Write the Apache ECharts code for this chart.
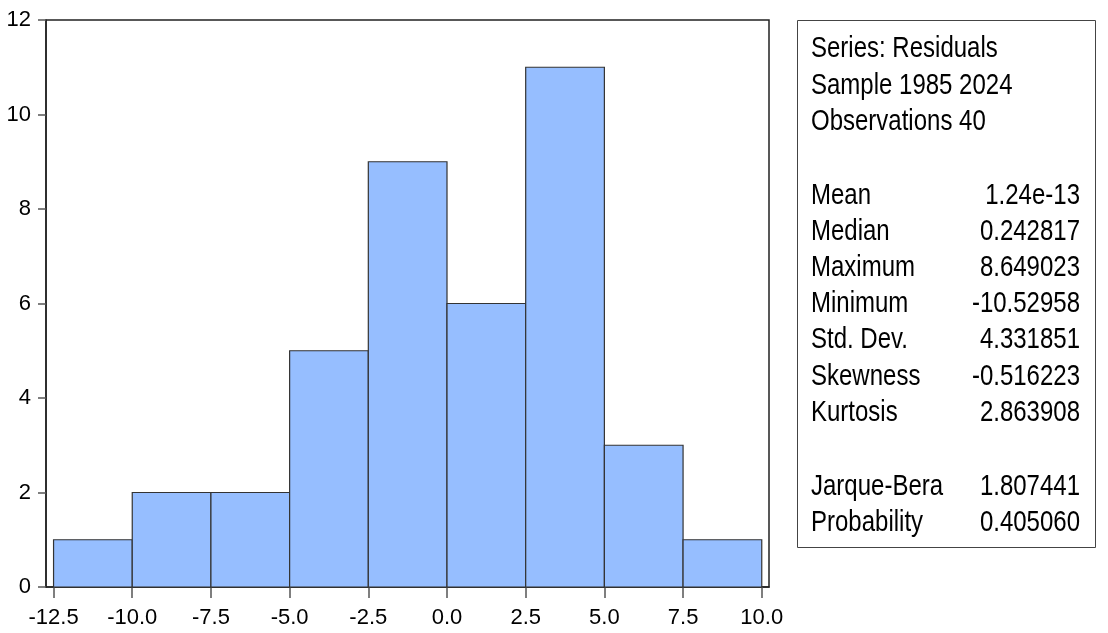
<!DOCTYPE html>
<html>
<head>
<meta charset="utf-8">
<script src="https://cdn.jsdelivr.net/npm/echarts@6/dist/echarts.min.js"></script>
<style>
html,body{margin:0;padding:0;background:#fff;}
#chart{width:1108px;height:633px;}
</style>
</head>
<body>
<div id="chart"></div>
<script>
// Histogram bins (lower edge, upper edge) and counts
const binStarts = [-12.5, -10.0, -7.5, -5.0, -2.5, 0.0, 2.5, 5.0, 7.5];
const binEnds   = [-10.0, -7.5, -5.0, -2.5, 0.0, 2.5, 5.0, 7.5, 10.0];
const counts    = [1, 2, 2, 5, 9, 6, 11, 3, 1];
const xTicks    = [-12.5, -10.0, -7.5, -5.0, -2.5, 0.0, 2.5, 5.0, 7.5, 10.0];
const yTicks    = [0, 2, 4, 6, 8, 10, 12];

// Statistics panel
const headerLines = ['Series: Residuals', 'Sample 1985 2024', 'Observations 40'];
const statLabels  = ['Mean', 'Median', 'Maximum', 'Minimum', 'Std. Dev.', 'Skewness', 'Kurtosis'];
const statValues  = ['1.24e-13', '0.242817', '8.649023', '-10.52958', '4.331851', '-0.516223', '2.863908'];
const testLabels  = ['Jarque-Bera', 'Probability'];
const testValues  = ['1.807441', '0.405060'];

const FONT = '"Liberation Sans", Arial, sans-serif';
const chart = echarts.init(document.getElementById('chart'), null, {renderer: 'canvas'});

const data = binStarts.map((s, i) => [s, binEnds[i], counts[i]]);

const panelText = [];
const SX = 0.8;
function addText(str, x, y, align) {
  panelText.push({
    type: 'text', x: x, y: y, scaleX: SX, scaleY: 1,
    style: {text: str, x: 0, y: 0, fill: '#000', font: '30px ' + FONT,
            textAlign: align, textVerticalAlign: 'middle'},
    z: 10
  });
}
const headerY = [49, 86, 122];
headerLines.forEach((t, i) => addText(t, 811, headerY[i], 'left'));
statLabels.forEach((t, i) => {
  const y = 196 + i * 36.05;
  addText(t, 811, y, 'left');
  addText(statValues[i], 1080, y, 'right');
});
testLabels.forEach((t, i) => {
  const y = 487 + i * 35.5;
  addText(t, 811, y, 'left');
  addText(testValues[i], 1080, y, 'right');
});

const option = {
  backgroundColor: '#fff',
  animation: false,
  grid: {left: 46, top: 20, right: 339, bottom: 46, show: true,
         borderColor: '#222', borderWidth: 1.5, backgroundColor: 'transparent'},
  xAxis: {
    type: 'value', min: -12.74, max: 10.23,
    axisLine: {show: true, onZero: false, lineStyle: {color: '#222', width: 1.5}},
    axisTick: {show: true, length: 11, customValues: xTicks, lineStyle: {color: '#555', width: 1.5}},
    axisLabel: {customValues: xTicks, margin: 20, color: '#000', fontSize: 22, fontFamily: FONT,
                formatter: v => v.toFixed(1)},
    splitLine: {show: false}
  },
  yAxis: {
    type: 'value', min: 0, max: 12, interval: 2,
    axisLine: {show: true, onZero: false, lineStyle: {color: '#222', width: 1.5}},
    axisTick: {show: true, length: 8, lineStyle: {color: '#555', width: 1.5}},
    axisLabel: {margin: 15, color: '#000', fontSize: 22, fontFamily: FONT},
    splitLine: {show: false}
  },
  series: [{
    type: 'custom',
    data: data,
    encode: {x: [0, 1], y: 2},
    renderItem: function (params, api) {
      const p0 = api.coord([api.value(0), 0]);
      const p1 = api.coord([api.value(1), api.value(2)]);
      return {
        type: 'rect',
        shape: {x: p0[0], y: p1[1], width: p1[0] - p0[0], height: p0[1] - p1[1]},
        style: {fill: '#96BEFF', stroke: '#333', lineWidth: 1.2}
      };
    }
  }],
  graphic: [
    {type: 'rect', shape: {x: 797.5, y: 20.5, width: 298, height: 527},
     style: {fill: '#fff', stroke: '#444', lineWidth: 1}, z: 5}
  ].concat(panelText)
};
chart.setOption(option);
</script>
</body>
</html>
